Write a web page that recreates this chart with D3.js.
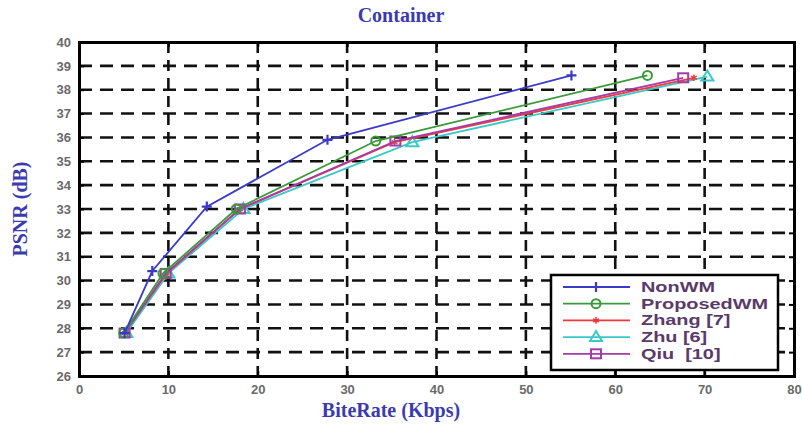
<!DOCTYPE html>
<html><head><meta charset="utf-8">
<script src="https://cdn.jsdelivr.net/npm/d3@7/dist/d3.min.js"></script>
<style>body{margin:0;background:#fff;}svg{display:block;}</style>
</head><body>
<svg id="c" width="802" height="435"></svg>
<script>
const xTicks = [0,10,20,30,40,50,60,70,80];
const yTicks = [26,27,28,29,30,31,32,33,34,35,36,37,38,39,40];
const seriesNames = ["NonWM","ProposedWM","Zhang [7]","Zhu [6]","Qiu  [10]"];
const nonWM      = [[5.1,27.8],[8.2,30.4],[14.3,33.1],[27.8,35.9],[55.1,38.6]];
const proposedWM = [[5.0,27.8],[9.4,30.3],[17.6,33.0],[33.2,35.85],[63.6,38.6]];
const zhang      = [[5.1,27.8],[9.8,30.3],[18.0,33.0],[35.3,35.8],[68.8,38.5]];
const zhu        = [[5.3,27.8],[10.0,30.3],[18.4,33.0],[37.3,35.8],[70.3,38.55]];
const qiu        = [[5.1,27.8],[9.7,30.3],[18.0,33.0],[35.4,35.85],[67.6,38.5]];

const colors = ["#3a3ac8","#3a9a3a","#f03a3a","#3ac8c8","#a63aa6"];
const markers = ["plus","circle","star","triangle","square"];
const data = [nonWM, proposedWM, zhang, zhu, qiu];

const svg = d3.select("#c");
const L=79, R=794, T=42, B=376;
const x = d3.scaleLinear().domain([0,80]).range([L,R]);
const y = d3.scaleLinear().domain([26,40]).range([B,T]);

// grid
const g = svg.append("g");
g.selectAll(".gx").data(xTicks.filter(d=>d>0&&d<80)).enter().append("line")
  .attr("x1",d=>x(d)).attr("x2",d=>x(d)).attr("y1",T).attr("y2",B)
  .attr("stroke","#111").attr("stroke-width",2.6).attr("stroke-dasharray","11,7");
g.selectAll(".gy").data(yTicks.filter(d=>d>26&&d<40)).enter().append("line")
  .attr("y1",d=>y(d)).attr("y2",d=>y(d)).attr("x1",L).attr("x2",R)
  .attr("stroke","#111").attr("stroke-width",2.6).attr("stroke-dasharray","13,8");

// axes
const fontTick = "bold 13px 'Liberation Sans', Arial, sans-serif";
const ax = svg.append("g").attr("transform",`translate(0,${B})`)
  .call(d3.axisBottom(x).tickValues(xTicks).tickSize(-5).tickPadding(9).tickFormat(d3.format("d")));
const ay = svg.append("g").attr("transform",`translate(${L},0)`)
  .call(d3.axisLeft(y).tickValues(yTicks).tickSize(-5).tickPadding(8).tickFormat(d3.format("d")));
const axt = svg.append("g").attr("transform",`translate(0,${T})`)
  .call(d3.axisTop(x).tickValues(xTicks).tickSize(-5).tickFormat(""));
const ayr = svg.append("g").attr("transform",`translate(${R},0)`)
  .call(d3.axisRight(y).tickValues(yTicks).tickSize(-5).tickFormat(""));
[ax,ay,axt,ayr].forEach(a=>{
  a.selectAll("path").attr("stroke","#000").attr("stroke-width",3);
  a.selectAll("line").attr("stroke","#000").attr("stroke-width",2);
  a.selectAll("text").style("font",fontTick).attr("fill","#6a6a6a");
});

// series
const line = d3.line().x(d=>x(d[0])).y(d=>y(d[1]));
function drawMarker(sel, type, color){
  sel.each(function(d){
    const s = d3.select(this), cx=x(d[0]), cy=y(d[1]);
    if(type==="plus"){
      s.append("path").attr("d",`M${cx-5},${cy}H${cx+5}M${cx},${cy-5}V${cy+5}`).attr("stroke",color).attr("stroke-width",2.2);
    } else if(type==="circle"){
      s.append("circle").attr("cx",cx).attr("cy",cy).attr("r",4.5).attr("fill","none").attr("stroke",color).attr("stroke-width",2);
    } else if(type==="star"){
      s.append("path").attr("d",d3.symbol(d3.symbolAsterisk? d3.symbolAsterisk : d3.symbolCross,30)()).attr("transform",`translate(${cx},${cy})`).attr("fill","none").attr("stroke",color).attr("stroke-width",1.5);
    } else if(type==="triangle"){
      s.append("path").attr("d",`M${cx},${cy-6}L${cx+6},${cy+4}L${cx-6},${cy+4}Z`).attr("fill","none").attr("stroke",color).attr("stroke-width",2);
    } else if(type==="square"){
      s.append("rect").attr("x",cx-5).attr("y",cy-4.5).attr("width",10).attr("height",9).attr("fill","none").attr("stroke",color).attr("stroke-width",2);
    }
  });
}
const order = [3,2,4,1,0];
order.forEach(i=>{
  const sg = svg.append("g");
  sg.append("path").datum(data[i]).attr("d",line).attr("fill","none").attr("stroke",colors[i]).attr("stroke-width",1.8);
  drawMarker(sg.selectAll(".m").data(data[i]).enter().append("g"), markers[i], colors[i]);
});

// legend
const lg = svg.append("g");
lg.append("rect").attr("x",551).attr("y",275).attr("width",227).attr("height",95).attr("fill","#fff").attr("stroke","#000").attr("stroke-width",2.5);
seriesNames.forEach((n,i)=>{
  const yy = 287 + i*16.7;
  lg.append("line").attr("x1",563).attr("x2",630).attr("y1",yy).attr("y2",yy).attr("stroke",colors[i]).attr("stroke-width",1.8);
  const mx = 596;
  drawMarker(lg.append("g").datum([x.invert(mx), y.invert(yy)]), markers[i], colors[i]);
  lg.append("text").attr("transform",`translate(641,${yy+5}) scale(1.42,1)`).text(n)
    .style("white-space","pre")
    .style("font","bold 14px 'Liberation Sans', Arial, sans-serif").attr("fill","#5a3a6a");
});

// titles
const serif = "bold 20px 'Liberation Serif', 'Times New Roman', serif";
svg.append("text").attr("x",401).attr("y",22).attr("text-anchor","middle").text("Container").style("font",serif).attr("fill","#3b3bb0");
svg.append("text").attr("x",391).attr("y",417).attr("text-anchor","middle").text("BiteRate (Kbps)").style("font",serif).attr("fill","#3b3bb0");
svg.append("text").attr("transform","translate(27,209) rotate(-90)").attr("text-anchor","middle").text("PSNR (dB)").style("font",serif).attr("fill","#3b3bb0");
</script>
</body></html>
